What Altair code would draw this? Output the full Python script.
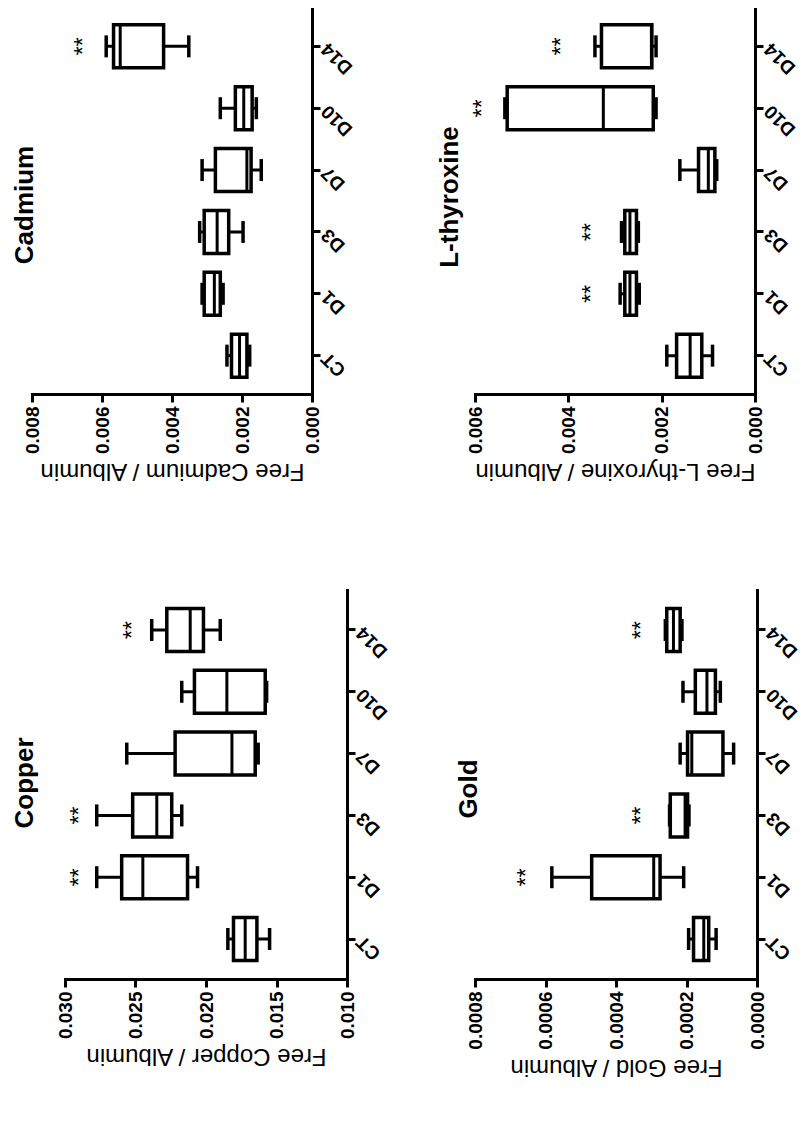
import altair as alt
import pandas as pd

categories = ["CT", "D1", "D3", "D7", "D10", "D14"]

# Copper
cu_min = [0.01549, 0.0206, 0.02172, 0.0163, 0.0157, 0.01899]
cu_q1 = [0.01639, 0.02131, 0.02243, 0.01651, 0.0158, 0.02018]
cu_med = [0.01722, 0.02448, 0.02349, 0.01816, 0.01852, 0.02112]
cu_q3 = [0.01805, 0.02598, 0.0252, 0.02219, 0.02082, 0.02278]
cu_max = [0.01845, 0.02775, 0.02775, 0.02562, 0.02172, 0.02385]
cu_star = [None, 0.02893, 0.02893, None, None, 0.02515]
cu_ticks = [0.010, 0.015, 0.020, 0.025, 0.030]

# Cadmium
cd_min = [0.00178, 0.00254, 0.00197, 0.00145, 0.00159, 0.00352]
cd_q1 = [0.00186, 0.00262, 0.00238, 0.00174, 0.00171, 0.00424]
cd_med = [0.00207, 0.00279, 0.00271, 0.00186, 0.00195, 0.00548]
cd_q3 = [0.00230, 0.00308, 0.00308, 0.00276, 0.00219, 0.00567]
cd_max = [0.00243, 0.00314, 0.00321, 0.00314, 0.00262, 0.00588]
cd_star = [None, None, None, None, None, 0.00652]
cd_ticks = [0.000, 0.002, 0.004, 0.006, 0.008]

# Gold
au_min = [0.000116, 0.000208, 0.000193, 0.0000663, 0.000104, 0.000213]
au_q1 = [0.000137, 0.000275, 0.000197, 0.0000966, 0.000118, 0.000218]
au_med = [0.000151, 0.000293, 0.000204, 0.000185, 0.000142, 0.000237]
au_q3 = [0.000180, 0.000469, 0.000246, 0.000197, 0.000175, 0.000256]
au_max = [0.000194, 0.000582, 0.000248, 0.000218, 0.000210, 0.000260]
au_star = [None, 0.000653, 0.000327, None, None, 0.000327]
au_ticks = [0.0, 0.0002, 0.0004, 0.0006, 0.0008]

# L-thyroxine
lt_min = [0.00091, 0.00248, 0.00250, 0.00082, 0.00212, 0.00212]
lt_q1 = [0.00114, 0.00254, 0.00254, 0.00086, 0.00218, 0.00221]
lt_med = [0.00139, 0.00268, 0.00268, 0.00100, 0.00325, 0.00222]
lt_q3 = [0.00168, 0.00279, 0.00279, 0.00121, 0.00531, 0.00329]
lt_max = [0.00189, 0.00289, 0.00286, 0.00161, 0.00536, 0.00343]
lt_star = [None, 0.0035, 0.0035, None, 0.00582, 0.00414]
lt_ticks = [0.000, 0.002, 0.004, 0.006]

FONT = "Liberation Sans"


def panel(title, ylab, mins, q1s, meds, q3s, maxs, stars, ticks, fmt,
          width, height, xrange, po, tx, ty):
    df = pd.DataFrame({"cat": categories, "min": mins, "q1": q1s,
                       "med": meds, "q3": q3s, "max": maxs})
    sdf = pd.DataFrame({
        "cat": [c for c, s in zip(categories, stars) if s is not None],
        "pos": [s for s in stars if s is not None],
    })
    sdf["label"] = "**"
    tdf = pd.DataFrame({"t": [title]})

    ysc = alt.Scale(domain=list(reversed(categories)), paddingInner=0,
                    paddingOuter=po)
    yaxis = alt.Axis(orient="right", title=None, labelAngle=225,
                     labelAlign="right", labelBaseline="middle",
                     labelFontSize=19, labelFontWeight="bold", labelFont=FONT,
                     labelColor="black", tickSize=8, tickWidth=3,
                     tickColor="black", domainWidth=3, domainColor="black",
                     labelPadding=4, domainCap="square")
    y = alt.Y("cat:N", scale=ysc, axis=yaxis)
    xsc = alt.Scale(domain=[ticks[0], ticks[-1]], range=xrange, nice=False,
                    zero=False)
    xaxis = alt.Axis(values=ticks, format=fmt, title=ylab, grid=False,
                     labelAngle=270, labelAlign="right",
                     labelBaseline="middle", labelFontSize=19,
                     labelFontWeight="bold", labelFont=FONT,
                     labelColor="black", labelFlush=False, labelOverlap=False,
                     tickSize=8, tickWidth=3, tickColor="black",
                     domainWidth=3, domainColor="black", labelPadding=4,
                     titleAngle=180, titleBaseline="bottom", titleFontSize=24,
                     titleFont=FONT, titleFontWeight="normal",
                     titleColor="black", titlePadding=5, domainCap="square")

    def X(field):
        return alt.X(field, scale=xsc, axis=xaxis)

    base = alt.Chart(df)
    whisk = base.mark_rule(color="black", strokeWidth=3, opacity=1).encode(
        x=X("min:Q"), x2="max:Q", y=y)
    box = base.mark_bar(size=43, fill="white", stroke="black",
                        strokeWidth=3.5, opacity=1).encode(
        x=X("q1:Q"), x2="q3:Q", y=y)
    med = base.mark_tick(color="black", size=43, thickness=3,
                         opacity=1).encode(x=X("med:Q"), y=y)
    capmin = base.mark_tick(color="black", size=22, thickness=3.5,
                            opacity=1).encode(x=X("min:Q"), y=y)
    capmax = base.mark_tick(color="black", size=22, thickness=3.5,
                            opacity=1).encode(x=X("max:Q"), y=y)
    star = alt.Chart(sdf).mark_text(angle=270, fontSize=23, font=FONT,
                                    color="black", baseline="middle",
                                    align="center").encode(
        x=X("pos:Q"), y=y, text="label:N")
    ttl = alt.Chart(tdf).mark_text(angle=270, fontSize=26, font=FONT,
                                   fontWeight="bold", color="black",
                                   baseline="middle", align="center").encode(
        x=alt.value(tx), y=alt.value(ty), text="t:N")

    return alt.layer(whisk, box, med, capmin, capmax, star, ttl).properties(
        width=width, height=height)


cad = panel("Cadmium", "Free Cadmium / Albumin", cd_min, cd_q1, cd_med,
            cd_q3, cd_max, cd_star, cd_ticks, ".3f", 280, 386, [280, 0],
            0.12, -7, 197)
lthy = panel("L-thyroxine", "Free L-thyroxine / Albumin", lt_min, lt_q1,
             lt_med, lt_q3, lt_max, lt_star, lt_ticks, ".3f", 280, 386,
             [280, 0], 0.12, -25, 189)
cop = panel("Copper", "Free Copper / Albumin", cu_min, cu_q1, cu_med, cu_q3,
            cu_max, cu_star, cu_ticks, ".3f", 315, 389, [315, 33], 0.147,
            -7, 193)
gold = panel("Gold", "Free Gold / Albumin", au_min, au_q1, au_med, au_q3,
             au_max, au_star, au_ticks, ".4f", 282, 389, [282, 0], 0.147,
             -6, 199)

chart = alt.concat(cad, lthy, cop, gold, columns=2, bounds="flush",
                   spacing=alt.RowColnumber(row=196, column=128)).properties(
    padding={"left": 4, "top": 0, "right": 0, "bottom": 12},
    background="white",
).configure_view(stroke=None)

chart.save("out.html", embed_options={"renderer": "svg", "actions": False})
